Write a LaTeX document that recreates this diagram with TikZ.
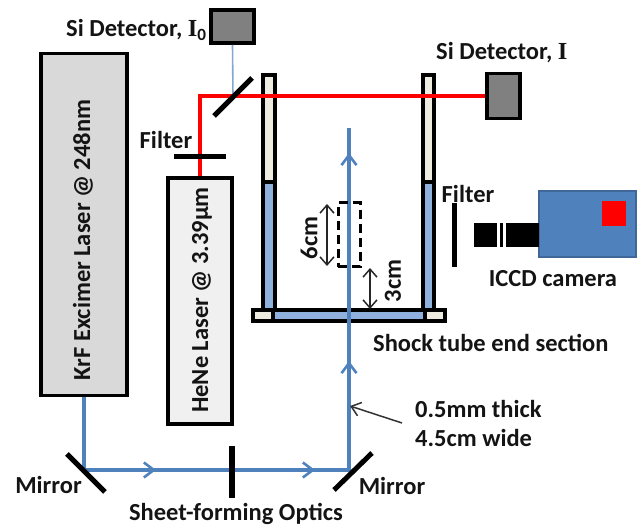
\documentclass[tikz,border=0pt]{standalone}
\usepackage{fontspec}
\setmainfont{Carlito}
\newfontfamily\serifI{Liberation Serif}
\usetikzlibrary{arrows.meta}
\definecolor{beam}{HTML}{4F81BD}
\definecolor{fillblue}{HTML}{8FB0DC}
\definecolor{cream}{HTML}{EEECE1}
\tikzset{
 lbl/.style={font=\fontsize{24.5}{26}\selectfont\bfseries,text=black!92,inner sep=0pt},
 bluebeam/.style={draw=beam,line width=3.2pt},
 redbeam/.style={draw=red,line width=3.2pt},
 optic/.style={draw=black,line width=5pt},
 wall/.style={draw=black,line width=3.6pt},
 opena/.style={-{Straight Barb[length=10pt,width=15pt,line width=2.6pt]}},
 dim/.style={draw=black!85,line width=1.5pt,{Straight Barb[length=8pt,width=14pt]}-{Straight Barb[length=8pt,width=14pt]}},
}
\begin{document}
\begin{tikzpicture}[x=1pt,y=-1pt]
\useasboundingbox (0,0) rectangle (638,526);
% coordinates
\coordinate (m1) at (84,470);
\coordinate (m2) at (349,470);
\coordinate (beamtop) at (349,128);
\coordinate (split) at (233,96);
\coordinate (corner) at (200,96);
% boxes
\node[draw=black,line width=3.6pt,fill=black!15,minimum width=86pt,minimum height=342pt,inner sep=0pt] (krf) at (84,224.5) {};
\node[rotate=90,lbl] at (83,240) {KrF Excimer Laser @ 248nm};
\node[draw=black,line width=3.6pt,fill=black!6,minimum width=64pt,minimum height=246pt,inner sep=0pt] (hene) at (200,301) {};
\node[rotate=90,lbl] at (202,300) {HeNe Laser @ 3.39µm};
\node[draw=black,line width=3.6pt,fill=black!50,minimum width=43pt,minimum height=33pt,inner sep=0pt] (d0) at (232.5,26.5) {};
\node[draw=black,line width=3.6pt,fill=black!50,minimum width=33pt,minimum height=45pt,inner sep=0pt] (d1) at (503.5,96) {};
% tube
\draw[wall,fill=cream] (263,75) rectangle (275,182);
\draw[wall,fill=fillblue] (263,182) rectangle (275,310);
\draw[wall,fill=cream] (423,75) rectangle (434,182);
\draw[wall,fill=fillblue] (423,182) rectangle (434,310);
\draw[wall,fill=cream] (253,310) rectangle (273,321);
\draw[wall,fill=cream] (425,310) rectangle (445,321);
\draw[wall,fill=fillblue] (273,310) rectangle (425,321);
% beams
\draw[draw=beam!70,line width=1.6pt] (d0.south) -- (split);
\draw[redbeam] (hene.north) -- (corner) -- (d1.west);
\draw[bluebeam] (krf.south) -- (m1) -- (m2) -- (beamtop);
\draw[bluebeam,opena] (m1) -- (156,470);
\draw[bluebeam,opena] (232,470) -- (315,470);
\draw[bluebeam,opena] (349,470) -- (349,361);
\draw[bluebeam,opena] (349,200) -- (349,153);
% optics
\coordinate (fa) at (174,157); \coordinate (fb) at (226,157);
\draw[optic] (fa) -- (fb);
\coordinate (ba) at (214,116); \coordinate (bb) at (252,78);
\draw[optic] (ba) -- (bb);
\coordinate (ma) at (67,454); \coordinate (mb) at (105,492);
\draw[optic] (ma) -- (mb);
\coordinate (mc) at (334,490); \coordinate (md) at (372,453);
\draw[optic] (mc) -- (md);
\coordinate (oa) at (232,446); \coordinate (ob) at (232,498);
\draw[optic,line width=5.5pt] (oa) -- (ob);
\coordinate (ra) at (454,203); \coordinate (rb) at (454,267);
\draw[optic] (ra) -- (rb);
% dashed
\node[draw=black,line width=3pt,dash pattern=on 9pt off 5pt,minimum width=22pt,minimum height=64pt,inner sep=0pt] (roi) at (349,235) {};
% dims
\coordinate (d6a) at (327,204); \coordinate (d6b) at (327,266);
\draw[dim] (d6a) -- (d6b);
\coordinate (d3a) at (370,268); \coordinate (d3b) at (370,309);
\draw[dim] (d3a) -- (d3b);
\node[rotate=90,lbl] at (309,238) {6cm};
\node[rotate=90,lbl] at (393,281) {3cm};
% camera
\node[draw=beam!80!black,line width=2pt,fill=beam,minimum width=97pt,minimum height=66pt,inner sep=0pt] (cam) at (587.5,224) {};
\node[fill=red,minimum width=24pt,minimum height=25pt,inner sep=0pt] (sensor) at (614,213.5) {};
\fill[black] (474,223) rectangle (497,247);
\fill[black] (499.5,223) rectangle (503,247);
\fill[black] (505.5,223) rectangle (538.5,247);
% callout
\coordinate (ca) at (402,423); \coordinate (cb) at (350,406);
\draw[draw=black!80,line width=1.5pt,-{Straight Barb[length=9pt,width=14pt]}] (ca) -- (cb);
% labels
\node[lbl,anchor=west] at (66,30) {Si Detector, {\serifI I}$_{\mathbf 0}$};
\node[lbl,anchor=west] at (436,53) {Si Detector, {\serifI I}};
\node[lbl] at (166,140) {Filter};
\node[lbl] at (468,194) {Filter};
\node[lbl] at (553,279) {ICCD camera};
\node[lbl,anchor=west] at (373,343) {Shock tube end section};
\node[lbl,anchor=west] at (415,409) {0.5mm thick};
\node[lbl,anchor=west] at (415,438) {4.5cm wide};
\node[lbl] at (48.5,485) {Mirror};
\node[lbl] at (392,486) {Mirror};
\node[lbl] at (236,514) {Sheet-forming Optics};
\end{tikzpicture}
\end{document}
